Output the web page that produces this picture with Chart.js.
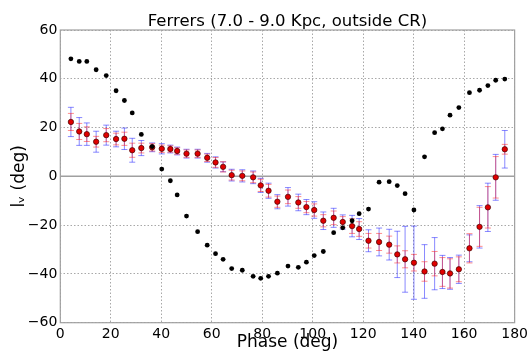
<!DOCTYPE html>
<html>
<head>
<meta charset="utf-8">
<script src="https://cdn.jsdelivr.net/npm/chart.js@4/dist/chart.umd.min.js"></script>
<style>
  html, body { margin: 0; padding: 0; background: #fff; }
  #wrap { width: 531px; height: 353px; }
</style>
</head>
<body>
<div id="wrap"><canvas id="lvChart" width="531" height="353"></canvas></div>
<script>
// 相位 (deg)
const phase = [4.2, 7.5, 10.5, 14.2, 18.2, 22.1, 25.4, 28.5, 32.1, 36.4,
    40.2, 43.6, 46.3, 50.0, 54.4, 58.2, 61.5, 64.5, 67.9, 72.1,
    76.4, 79.4, 82.5, 86.0, 90.2, 94.3, 97.5, 100.6, 104.2, 108.3,
    111.9, 115.6, 118.4, 122.1, 126.3, 130.3, 133.5, 136.6, 140.1, 144.3,
    148.3, 151.4, 154.4, 157.9, 162.1, 166.1, 169.4, 172.5, 176.1];

// 黑点
const blackLv = [48.2, 47.1, 47.1, 43.7, 41.3, 35.1, 31.1, 26.0, 17.2, 12.2,
    3.0, -1.8, -7.6, -16.3, -22.7, -28.2, -31.7, -34.0, -37.8, -38.5,
    -41.0, -41.8, -41.0, -39.7, -36.8, -37.3, -35.2, -32.5, -30.8, -23.1,
    -21.1, -18.2, -15.3, -13.4, -2.4, -2.2, -3.8, -7.1, -13.8, 8.0,
    17.9, 19.5, 25.1, 28.2, 34.3, 35.3, 37.2, 39.4, 39.9];

// 红点 + 误差
const redLv = [22.3, 18.4, 17.3, 14.2, 16.9, 15.3, 15.4, 10.7, 11.6, 11.9,
    11.3, 11.2, 10.4, 9.3, 9.3, 7.6, 5.7, 3.9, 0.5, 0.2,
    -0.4, -3.7, -5.9, -10.4, -8.4, -10.7, -12.6, -13.8, -18.2, -17.0,
    -18.7, -20.4, -21.6, -26.4, -26.9, -28.0, -32.0, -34.0, -35.4, -39.0,
    -35.8, -39.2, -39.8, -38.1, -29.5, -20.7, -12.7, -0.4, 11.1];

const redErr = [3.5, 3.3, 3.0, 2.2, 2.7, 2.4, 2.7, 2.9, 2.0, 1.5,
    1.5, 1.3, 1.3, 1.5, 1.5, 1.5, 2.0, 2.1, 2.0, 2.0,
    2.2, 2.5, 2.6, 2.3, 2.8, 2.4, 2.3, 2.5, 2.5, 2.8,
    2.2, 3.0, 3.0, 3.0, 3.5, 3.5, 3.5, 3.5, 3.4, 4.0,
    5.0, 5.9, 6.0, 5.1, 6.0, 8.0, 8.5, 8.5, 2.0];

const blueErr = [6.0, 5.7, 4.6, 4.3, 4.1, 3.2, 4.4, 4.9, 3.1, 1.8,
    2.1, 1.6, 1.6, 1.8, 1.8, 1.8, 2.3, 2.0, 2.4, 2.5,
    2.6, 2.9, 3.1, 2.9, 3.8, 3.4, 3.1, 3.4, 3.6, 3.9,
    2.9, 4.4, 4.3, 4.5, 5.7, 6.3, 9.5, 13.5, 15.0, 11.0,
    10.7, 6.8, 6.5, 5.8, 5.5, 8.7, 9.9, 9.4, 7.7];

const xTicks = [0, 20, 40, 60, 80, 100, 120, 140, 160, 180];
const yTicks = [-60, -40, -20, 0, 20, 40, 60];

const FONT = 'DejaVu Sans';

// 误差棒、零线、边框
const errorBarPlugin = {
    id: 'errorBars',
    beforeDatasetsDraw(chart) {
        const { ctx, chartArea: a, scales: { x, y } } = chart;
        ctx.save();

        // 零线
        const y0 = y.getPixelForValue(0);
        ctx.strokeStyle = '#a0a0a0';
        ctx.lineWidth = 1.5;
        ctx.beginPath();
        ctx.moveTo(a.left, y0);
        ctx.lineTo(a.right, y0);
        ctx.stroke();

        // 边框
        ctx.lineWidth = 1.2;
        ctx.strokeRect(a.left, a.top, a.width, a.height);

        const drawBars = (errs, color) => {
            ctx.strokeStyle = color;
            ctx.lineWidth = 1;
            phase.forEach((p, i) => {
                const px = x.getPixelForValue(p);
                const top = y.getPixelForValue(redLv[i] + errs[i]);
                const bot = y.getPixelForValue(redLv[i] - errs[i]);
                ctx.beginPath();
                ctx.moveTo(px, top);
                ctx.lineTo(px, bot);
                ctx.moveTo(px - 3, top);
                ctx.lineTo(px + 3, top);
                ctx.moveTo(px - 3, bot);
                ctx.lineTo(px + 3, bot);
                ctx.stroke();
            });
        };
        drawBars(blueErr, 'rgba(40, 40, 255, 0.55)');
        drawBars(redErr, 'rgba(255, 30, 30, 0.5)');

        ctx.restore();
    }
};

const minusFmt = v => (v < 0 ? '\u2212' + Math.abs(v) : String(v));

const ctx = document.getElementById('lvChart');
const lvChart = new Chart(ctx, {
    type: 'scatter',
    data: {
        datasets: [{
            label: 'black',
            data: phase.map((p, i) => ({ x: p, y: blackLv[i] })),
            backgroundColor: '#000',
            borderColor: '#000',
            pointRadius: 2.4,
            borderWidth: 0
        }, {
            label: 'red',
            data: phase.map((p, i) => ({ x: p, y: redLv[i] })),
            backgroundColor: '#e00000',
            borderColor: '#400',
            pointRadius: 2.7,
            borderWidth: 0.7
        }]
    },
    options: {
        responsive: false,
        animation: false,
        events: [],
        layout: { padding: { left: 0, right: 15.3, top: 0, bottom: 0 } },
        plugins: {
            legend: { display: false },
            tooltip: { enabled: false },
            title: {
                display: true,
                fullSize: false,
                text: 'Ferrers (7.0 - 9.0 Kpc, outside CR)',
                color: '#000',
                font: { family: FONT, size: 16.5, weight: 'normal', lineHeight: 1 },
                padding: { top: 13.5, bottom: 0 }
            }
        },
        scales: {
            x: {
                type: 'linear',
                min: 0,
                max: 180,
                afterBuildTicks: s => { s.ticks = xTicks.map(v => ({ value: v })); },
                afterFit: s => { s.height = 30.3; },
                ticks: {
                    color: '#000',
                    padding: 3,
                    maxRotation: 0,
                    font: { family: FONT, size: 14 },
                    callback: minusFmt
                },
                grid: { color: '#a8a8a8', lineWidth: 1, drawTicks: false },
                border: { display: false, dash: [1.5, 2] },
                title: {
                    display: true,
                    text: 'Phase (deg)',
                    color: '#000',
                    font: { family: FONT, size: 17 },
                    padding: { top: 0, bottom: 0 }
                }
            },
            y: {
                type: 'linear',
                min: -60,
                max: 60,
                afterBuildTicks: s => { s.ticks = yTicks.map(v => ({ value: v })); },
                afterFit: s => { s.width = 60.3; },
                ticks: {
                    color: '#000',
                    padding: 3,
                    font: { family: FONT, size: 14 },
                    callback: minusFmt
                },
                grid: { color: '#a8a8a8', lineWidth: 1, drawTicks: false },
                border: { display: false, dash: [1.5, 2] },
                title: {
                    display: true,
                    text: 'l\u1D65 (deg)',
                    color: '#000',
                    font: { family: FONT, size: 17 },
                    padding: { top: 9, bottom: 0 }
                }
            }
        }
    },
    plugins: [errorBarPlugin]
});
</script>
</body>
</html>
